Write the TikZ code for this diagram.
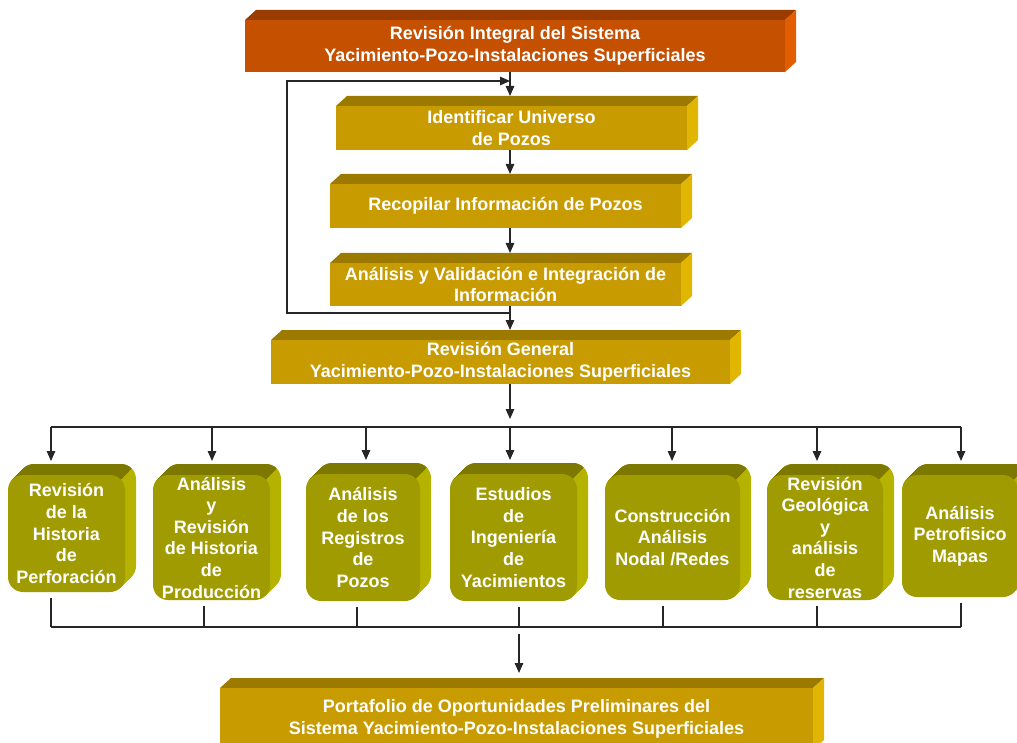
\documentclass[tikz,border=0pt]{standalone}
\usepackage{fontspec}
\setmainfont{Liberation Sans}
\usetikzlibrary{arrows.meta,calc}

% face colours: T = top face, F = front face, S = side face
\definecolor{redT}{RGB}{154,60,0}
\definecolor{redF}{RGB}{197,80,0}
\definecolor{redS}{RGB}{226,92,0}
\definecolor{goldT}{RGB}{156,122,0}
\definecolor{goldF}{RGB}{200,156,0}
\definecolor{goldS}{RGB}{225,182,0}
\definecolor{oliveT}{RGB}{125,120,0}
\definecolor{oliveF}{RGB}{160,155,0}
\definecolor{oliveS}{RGB}{182,178,0}

% flat slab: name, x1, y1, x2, y2, palette, text
\newcommand{\slab}[7]{%
  \fill[#6T] (#2,#3) -- ({#2+11},{#3-10}) -- ({#4+11},{#3-10}) -- (#4,#3) -- cycle;
  \fill[#6S] (#4,#3) -- ({#4+11},{#3-10}) -- ({#4+11},{#5-10}) -- (#4,#5) -- cycle;
  \fill[#6F] (#2,#3) rectangle (#4,#5);
  \node[minimum width={#4-#2}, minimum height={#5-#3}] (#1) at ({(#2+#4)/2},{(#3+#5)/2}) {#7};
  \coordinate (#1t) at ({(#2+#4)/2},{#3-10});
}

% rounded block with depth: name, x1, y1, x2, y2, text
\newcommand{\cube}[6]{%
  \foreach \i in {11,...,1} {\fill[oliveS, rounded corners=15pt] ({#2+\i},{#3-\i}) rectangle ({#4+\i},{#5-\i});}
  \begin{scope}
    \clip ({#4+300},{#3-300}) -- ({#4-300},{#3+300}) -- ({#4-300},{#3-300}) -- cycle;
    \foreach \i in {11,...,1} {\fill[oliveT, rounded corners=15pt] ({#2+\i},{#3-\i}) rectangle ({#4+\i},{#5-\i});}
  \end{scope}
  \fill[oliveF, rounded corners=15pt] (#2,#3) rectangle (#4,#5);
  \node[minimum width={#4-#2}, minimum height={#5-#3}] (#1) at ({(#2+#4)/2},{(#3+#5)/2}) {#6};
  \coordinate (#1t) at ({(#2+#4)/2},{#3-11});
}

\begin{document}
\begin{tikzpicture}[x=1pt,y=-1pt,
  every node/.style={text=white, font=\bfseries\fontsize{18}{21.6}\selectfont,
    align=center, inner sep=0pt},
  link/.style={line width=1.3pt, black!85},
  arr/.style={link, -{Triangle[length=10pt,width=8.5pt]}}]
\useasboundingbox (0,0) rectangle (1017,743);
\clip (0,0) rectangle (1017,743);

% main chain
\slab{top}{245}{20}{785}{72}{red}{Revisión Integral del Sistema\\Yacimiento-Pozo-Instalaciones Superficiales}
\slab{ident}{336}{106}{687}{150}{gold}{Identificar Universo\\de Pozos}
\slab{reco}{330}{184}{681}{228}{gold}{Recopilar Información de Pozos}
\slab{anal}{330}{263}{681}{306}{gold}{Análisis y Validación e Integración de\\Información}
\slab{gen}{271}{340}{730}{384}{gold}{Revisión General\\Yacimiento-Pozo-Instalaciones Superficiales}
\slab{port}{220}{688}{813}{750}{gold}{Portafolio de Oportunidades Preliminares del\\Sistema Yacimiento-Pozo-Instalaciones Superficiales}

% study blocks
\cube{b1}{8}{475}{125}{592}{Revisión\\de la\\Historia\\de\\Perforación}
\cube{b2}{153}{475}{270}{600}{Análisis\\y\\Revisión\\de Historia\\de\\Producción}
\cube{b3}{306}{474}{420}{601}{Análisis\\de los\\Registros\\de\\Pozos}
\cube{b4}{450}{474}{577}{601}{Estudios\\de\\Ingeniería\\de\\Yacimientos}
\cube{b5}{605}{475}{740}{600}{Construcción\\Análisis\\Nodal /Redes}
\cube{b6}{767}{475}{883}{600}{Revisión\\Geológica\\y\\análisis\\de\\reservas}
\cube{b7}{902}{475}{1018}{597}{Análisis\\Petrofisico\\Mapas}

% guide coordinates
\coordinate (spine) at (510,0);
\coordinate (loopB) at (287,313);
\coordinate (loopT) at (287,81);
\coordinate (busA) at (0,427);
\coordinate (busB) at (0,627);
\foreach \n/\x in {1/51,2/212,3/366,4/510,5/672,6/817,7/961} {\coordinate (u\n) at (\x,0);}
\foreach \n/\x in {1/51,2/204,3/357,4/519,5/663,6/817,7/961} {\coordinate (v\n) at (\x,0);}

% vertical chain
\draw[arr] (top.south -| spine) -- (identt -| spine);
\draw[arr] (ident.south -| spine) -- (recot -| spine);
\draw[arr] (reco.south -| spine) -- (analt -| spine);
\draw[arr] (anal.south -| spine) -- (gent -| spine);
% feedback loop
\draw[arr] (anal.south -| spine) |- (loopB) -- (loopT) -- (loopT -| spine);

% distribution bus
\draw[arr] (gen.south -| spine) -- ($(busA -| spine)+(0,-8)$);
\draw[link] (busA -| u1) -- (busA -| u7);
\foreach \n in {1,...,7} {\draw[arr, shorten >=3pt] (busA -| u\n) -- (b\n t -| u\n);}

% collection bus
\foreach \n in {1,...,7} {\draw[link, shorten <=6pt] (b\n.south -| v\n) -- (busB -| v\n);}
\draw[link] (busB -| v1) -- (busB -| v7);
\draw[arr, shorten >=5pt] ($(busB -| v4)+(0,7)$) -- (portt -| v4);
\end{tikzpicture}
\end{document}
